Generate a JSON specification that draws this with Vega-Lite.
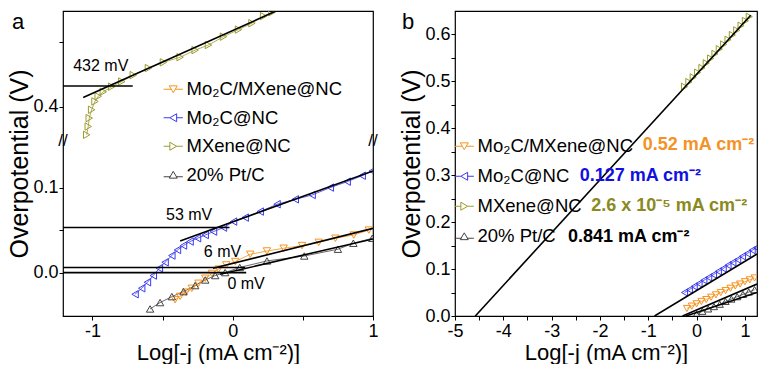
{
  "$schema": "https://vega.github.io/schema/vega-lite/v6.json",
  "padding": {"left": 7, "top": 10, "right": 0, "bottom": 0},
  "background": "white",
  "config": {
    "font": "Liberation Sans",
    "view": {"stroke": "black", "strokeWidth": 1.2},
    "axis": {"domain": false, "grid": false, "tickSize": 4, "tickColor": "black", "labelColor": "black", "titleColor": "black", "labelFont": "Liberation Sans", "titleFont": "Liberation Sans", "labelFontSize": 18, "titleFontWeight": "normal", "labelFlush": false, "labelOverlap": false},
    "axisX": {"titleFontSize": 22, "labelPadding": 2, "titlePadding": 2},
    "axisY": {"titleFontSize": 25, "labelPadding": 1, "titlePadding": 0},
    "title": {"font": "Liberation Sans", "fontSize": 22, "fontWeight": "normal", "color": "black"}
  },
  "datasets": {
    "aPts": [
      {"s": "Mo₂C/MXene@NC", "x": -0.411, "y": -0.032},
      {"s": "Mo₂C/MXene@NC", "x": -0.375, "y": -0.028},
      {"s": "Mo₂C/MXene@NC", "x": -0.332, "y": -0.023},
      {"s": "Mo₂C/MXene@NC", "x": -0.292, "y": -0.0185},
      {"s": "Mo₂C/MXene@NC", "x": -0.244, "y": -0.0126},
      {"s": "Mo₂C/MXene@NC", "x": -0.196, "y": -0.0067},
      {"s": "Mo₂C/MXene@NC", "x": -0.149, "y": -0.001},
      {"s": "Mo₂C/MXene@NC", "x": -0.101, "y": 0.004},
      {"s": "Mo₂C/MXene@NC", "x": -0.046, "y": 0.009},
      {"s": "Mo₂C/MXene@NC", "x": 0.018, "y": 0.013},
      {"s": "Mo₂C/MXene@NC", "x": 0.125, "y": 0.0215},
      {"s": "Mo₂C/MXene@NC", "x": 0.244, "y": 0.0254},
      {"s": "Mo₂C/MXene@NC", "x": 0.363, "y": 0.0286},
      {"s": "Mo₂C/MXene@NC", "x": 0.494, "y": 0.0318},
      {"s": "Mo₂C/MXene@NC", "x": 0.613, "y": 0.0356},
      {"s": "Mo₂C/MXene@NC", "x": 0.732, "y": 0.0404},
      {"s": "Mo₂C/MXene@NC", "x": 0.863, "y": 0.0442},
      {"s": "Mo₂C/MXene@NC", "x": 0.97, "y": 0.05},
      {"s": "Mo₂C@NC", "x": -0.696, "y": -0.0255},
      {"s": "Mo₂C@NC", "x": -0.649, "y": -0.0185},
      {"s": "Mo₂C@NC", "x": -0.608, "y": -0.0114},
      {"s": "Mo₂C@NC", "x": -0.566, "y": -0.0035},
      {"s": "Mo₂C@NC", "x": -0.523, "y": 0.0051},
      {"s": "Mo₂C@NC", "x": -0.482, "y": 0.0121},
      {"s": "Mo₂C@NC", "x": -0.434, "y": 0.02},
      {"s": "Mo₂C@NC", "x": -0.394, "y": 0.0266},
      {"s": "Mo₂C@NC", "x": -0.351, "y": 0.0318},
      {"s": "Mo₂C@NC", "x": -0.304, "y": 0.0365},
      {"s": "Mo₂C@NC", "x": -0.251, "y": 0.0404},
      {"s": "Mo₂C@NC", "x": -0.196, "y": 0.0442},
      {"s": "Mo₂C@NC", "x": -0.137, "y": 0.0482},
      {"s": "Mo₂C@NC", "x": -0.066, "y": 0.0529},
      {"s": "Mo₂C@NC", "x": 0.006, "y": 0.06},
      {"s": "Mo₂C@NC", "x": 0.089, "y": 0.0647},
      {"s": "Mo₂C@NC", "x": 0.196, "y": 0.0718},
      {"s": "Mo₂C@NC", "x": 0.316, "y": 0.0804},
      {"s": "Mo₂C@NC", "x": 0.446, "y": 0.0862},
      {"s": "Mo₂C@NC", "x": 0.566, "y": 0.0913},
      {"s": "Mo₂C@NC", "x": 0.696, "y": 0.1},
      {"s": "Mo₂C@NC", "x": 0.816, "y": 0.107},
      {"s": "Mo₂C@NC", "x": 0.923, "y": 0.114},
      {"s": "Mo₂C@NC", "x": 0.995, "y": 0.1195},
      {"s": "MXene@NC", "x": -1.041, "y": 0.356},
      {"s": "MXene@NC", "x": -1.03, "y": 0.369},
      {"s": "MXene@NC", "x": -1.023, "y": 0.382},
      {"s": "MXene@NC", "x": -1.006, "y": 0.395},
      {"s": "MXene@NC", "x": -0.982, "y": 0.408},
      {"s": "MXene@NC", "x": -0.959, "y": 0.416},
      {"s": "MXene@NC", "x": -0.923, "y": 0.423},
      {"s": "MXene@NC", "x": -0.863, "y": 0.431},
      {"s": "MXene@NC", "x": -0.791, "y": 0.439},
      {"s": "MXene@NC", "x": -0.709, "y": 0.449},
      {"s": "MXene@NC", "x": -0.601, "y": 0.46},
      {"s": "MXene@NC", "x": -0.494, "y": 0.469},
      {"s": "MXene@NC", "x": -0.375, "y": 0.477},
      {"s": "MXene@NC", "x": -0.268, "y": 0.488},
      {"s": "MXene@NC", "x": -0.173, "y": 0.496},
      {"s": "MXene@NC", "x": -0.066, "y": 0.509},
      {"s": "MXene@NC", "x": 0.041, "y": 0.52},
      {"s": "MXene@NC", "x": 0.137, "y": 0.53},
      {"s": "MXene@NC", "x": 0.22, "y": 0.541},
      {"s": "MXene@NC", "x": 0.28, "y": 0.547},
      {"s": "20% Pt/C", "x": -0.589, "y": -0.0428},
      {"s": "20% Pt/C", "x": -0.518, "y": -0.0353},
      {"s": "20% Pt/C", "x": -0.434, "y": -0.0283},
      {"s": "20% Pt/C", "x": -0.351, "y": -0.0224},
      {"s": "20% Pt/C", "x": -0.268, "y": -0.0153},
      {"s": "20% Pt/C", "x": -0.196, "y": -0.0087},
      {"s": "20% Pt/C", "x": -0.125, "y": -0.0035},
      {"s": "20% Pt/C", "x": -0.054, "y": 0.0},
      {"s": "20% Pt/C", "x": 0.05, "y": 0.006},
      {"s": "20% Pt/C", "x": 0.244, "y": 0.0137},
      {"s": "20% Pt/C", "x": 0.51, "y": 0.0195},
      {"s": "20% Pt/C", "x": 0.75, "y": 0.0275},
      {"s": "20% Pt/C", "x": 0.86, "y": 0.0345},
      {"s": "20% Pt/C", "x": 0.995, "y": 0.0404}
    ],
    "aFit": [
      {"id": "m1", "x": -1.066, "y": 0.414}, {"id": "m1", "x": 0.33, "y": 0.551},
      {"id": "m2", "x": -1.21, "y": 0.432}, {"id": "m2", "x": -0.713, "y": 0.432},
      {"id": "b1", "x": -0.375, "y": 0.0372}, {"id": "b1", "x": 1.0, "y": 0.1195},
      {"id": "b2", "x": -1.21, "y": 0.053}, {"id": "b2", "x": -0.023, "y": 0.053},
      {"id": "o1", "x": -0.14, "y": 0.005}, {"id": "o1", "x": 1.0, "y": 0.052},
      {"id": "o2", "x": -1.21, "y": 0.006}, {"id": "o2", "x": 0.089, "y": 0.006},
      {"id": "k1", "x": -0.09, "y": -0.002}, {"id": "k1", "x": 1.0, "y": 0.0396},
      {"id": "k2", "x": -1.21, "y": 0.0}, {"id": "k2", "x": 0.096, "y": 0.0}
    ],
    "aLab": [
      {"x": -0.941, "y": 0.4625, "t": "432 mV"},
      {"x": -0.311, "y": 0.0678, "t": "53 mV"},
      {"x": -0.073, "y": 0.0247, "t": "6 mV"},
      {"x": 0.095, "y": -0.0138, "t": "0 mV"}
    ],
    "aBrk": [
      {"x": -1.21, "y": 0.25, "t": "//"},
      {"x": 1.0, "y": 0.25, "t": "//"}
    ],
    "bPts": [
      {"s": "Mo₂C/MXene@NC", "x": -0.2, "y": 0.016},
      {"s": "Mo₂C/MXene@NC", "x": -0.1, "y": 0.021},
      {"s": "Mo₂C/MXene@NC", "x": 0.0, "y": 0.026},
      {"s": "Mo₂C/MXene@NC", "x": 0.1, "y": 0.031},
      {"s": "Mo₂C/MXene@NC", "x": 0.2, "y": 0.035},
      {"s": "Mo₂C/MXene@NC", "x": 0.3, "y": 0.04},
      {"s": "Mo₂C/MXene@NC", "x": 0.4, "y": 0.045},
      {"s": "Mo₂C/MXene@NC", "x": 0.5, "y": 0.05},
      {"s": "Mo₂C/MXene@NC", "x": 0.6, "y": 0.054},
      {"s": "Mo₂C/MXene@NC", "x": 0.7, "y": 0.059},
      {"s": "Mo₂C/MXene@NC", "x": 0.8, "y": 0.064},
      {"s": "Mo₂C/MXene@NC", "x": 0.9, "y": 0.068},
      {"s": "Mo₂C/MXene@NC", "x": 1.0, "y": 0.073},
      {"s": "Mo₂C/MXene@NC", "x": 1.1, "y": 0.077},
      {"s": "Mo₂C/MXene@NC", "x": 1.2, "y": 0.081},
      {"s": "Mo₂C@NC", "x": -0.25, "y": 0.05},
      {"s": "Mo₂C@NC", "x": -0.15, "y": 0.056},
      {"s": "Mo₂C@NC", "x": -0.05, "y": 0.063},
      {"s": "Mo₂C@NC", "x": 0.05, "y": 0.069},
      {"s": "Mo₂C@NC", "x": 0.15, "y": 0.076},
      {"s": "Mo₂C@NC", "x": 0.25, "y": 0.082},
      {"s": "Mo₂C@NC", "x": 0.35, "y": 0.088},
      {"s": "Mo₂C@NC", "x": 0.45, "y": 0.095},
      {"s": "Mo₂C@NC", "x": 0.55, "y": 0.101},
      {"s": "Mo₂C@NC", "x": 0.65, "y": 0.108},
      {"s": "Mo₂C@NC", "x": 0.75, "y": 0.114},
      {"s": "Mo₂C@NC", "x": 0.85, "y": 0.12},
      {"s": "Mo₂C@NC", "x": 0.95, "y": 0.127},
      {"s": "Mo₂C@NC", "x": 1.05, "y": 0.133},
      {"s": "Mo₂C@NC", "x": 1.15, "y": 0.14},
      {"s": "Mo₂C@NC", "x": 1.24, "y": 0.145},
      {"s": "MXene@NC", "x": -0.25, "y": 0.488},
      {"s": "MXene@NC", "x": -0.16, "y": 0.498},
      {"s": "MXene@NC", "x": -0.07, "y": 0.508},
      {"s": "MXene@NC", "x": 0.02, "y": 0.518},
      {"s": "MXene@NC", "x": 0.11, "y": 0.528},
      {"s": "MXene@NC", "x": 0.2, "y": 0.538},
      {"s": "MXene@NC", "x": 0.29, "y": 0.548},
      {"s": "MXene@NC", "x": 0.38, "y": 0.558},
      {"s": "MXene@NC", "x": 0.47, "y": 0.568},
      {"s": "MXene@NC", "x": 0.56, "y": 0.578},
      {"s": "MXene@NC", "x": 0.65, "y": 0.588},
      {"s": "MXene@NC", "x": 0.74, "y": 0.598},
      {"s": "MXene@NC", "x": 0.83, "y": 0.608},
      {"s": "MXene@NC", "x": 0.92, "y": 0.618},
      {"s": "MXene@NC", "x": 1.01, "y": 0.628},
      {"s": "MXene@NC", "x": 1.09, "y": 0.637},
      {"s": "20% Pt/C", "x": 0.0, "y": 0.004},
      {"s": "20% Pt/C", "x": 0.12, "y": 0.01},
      {"s": "20% Pt/C", "x": 0.24, "y": 0.015},
      {"s": "20% Pt/C", "x": 0.36, "y": 0.02},
      {"s": "20% Pt/C", "x": 0.48, "y": 0.025},
      {"s": "20% Pt/C", "x": 0.6, "y": 0.031},
      {"s": "20% Pt/C", "x": 0.72, "y": 0.036},
      {"s": "20% Pt/C", "x": 0.84, "y": 0.041},
      {"s": "20% Pt/C", "x": 0.96, "y": 0.046},
      {"s": "20% Pt/C", "x": 1.08, "y": 0.051},
      {"s": "20% Pt/C", "x": 1.2, "y": 0.056}
    ],
    "bFit": [
      {"id": "m", "x": -4.58, "y": 0.0}, {"id": "m", "x": 1.12, "y": 0.64},
      {"id": "b", "x": -0.87, "y": 0.0}, {"id": "b", "x": 1.25, "y": 0.132},
      {"id": "o", "x": -0.29, "y": 0.0}, {"id": "o", "x": 1.25, "y": 0.068},
      {"id": "k", "x": -0.22, "y": 0.0}, {"id": "k", "x": 1.25, "y": 0.05}
    ],
    "bLab": [
      {"s": "Mo₂C/MXene@NC", "x": -1.113, "y": 0.3643, "t": "0.52 mA cm⁻²"},
      {"s": "Mo₂C@NC", "x": -2.42, "y": 0.2987, "t": "0.127 mA cm⁻²"},
      {"s": "MXene@NC", "x": -2.18, "y": 0.2336, "t": "2.6 x 10⁻⁵ mA cm⁻²"},
      {"s": "20% Pt/C", "x": -2.66, "y": 0.1685, "t": "0.841 mA cm⁻²"}
    ]
  },
  "resolve": {"scale": {"color": "independent", "shape": "independent", "x": "independent", "y": "independent"}, "legend": {"color": "independent", "shape": "independent"}},
  "spacing": 20,
  "hconcat": [
    {
      "width": 310,
      "height": 305,
      "title": {"text": "a", "anchor": "start", "frame": "bounds", "offset": 0, "dx": 4, "dy": 23},
      "encoding": {
        "x": {"field": "x", "type": "quantitative", "title": "Log[-j (mA cm⁻²)]",
          "scale": {"domain": [-1.21, 1.0], "nice": false, "zero": false},
          "axis": {"values": [-1, -0.5, 0, 0.5, 1], "labelExpr": "datum.value % 1 == 0 ? '' + datum.value : ''"}},
        "y": {"field": "y", "type": "quantitative", "title": "Overpotential (V)",
          "scale": {"domain": [-0.0511, 0.1513, 0.351, 0.549], "range": [305, 133, 127, 0], "nice": false, "zero": false},
          "axis": {"values": [0, 0.05, 0.1, 0.4, 0.5], "labelExpr": "(datum.value == 0.05 || datum.value == 0.5) ? '' : format(datum.value, '.1f')"}}
      },
      "resolve": {"scale": {"color": "independent", "shape": "independent"}, "legend": {"color": "independent", "shape": "independent"}},
      "layer": [
        {"data": {"name": "aPts"}, "mark": {"type": "line", "strokeWidth": 0.8, "clip": true},
          "encoding": {"color": {"field": "s", "type": "nominal", "legend": null, "scale": {"domain": ["Mo₂C/MXene@NC", "Mo₂C@NC", "MXene@NC", "20% Pt/C"], "range": ["#F7931E", "#3A3AF0", "#9C9C2E", "#444444"]}}, "order": {"field": "x"}}},
        {"data": {"name": "aPts"}, "mark": {"type": "point", "filled": false, "size": 55, "strokeWidth": 1, "opacity": 1, "clip": true},
          "encoding": {"color": {"field": "s", "type": "nominal", "legend": null, "scale": {"domain": ["Mo₂C/MXene@NC", "Mo₂C@NC", "MXene@NC", "20% Pt/C"], "range": ["#F7931E", "#3A3AF0", "#9C9C2E", "#444444"]}},
            "shape": {"field": "s", "type": "nominal", "legend": null, "scale": {"domain": ["Mo₂C/MXene@NC", "Mo₂C@NC", "MXene@NC", "20% Pt/C"], "range": ["triangle-down", "triangle-left", "triangle-right", "triangle-up"]}}}},
        {"data": {"name": "aFit"}, "mark": {"type": "line", "color": "black", "strokeWidth": 1.6, "clip": true},
          "encoding": {"detail": {"field": "id"}}},
        {"data": {"name": "aLab"}, "mark": {"type": "text", "fontSize": 16, "color": "black", "font": "Liberation Sans"},
          "encoding": {"text": {"field": "t"}}},
        {"data": {"values": [{}]}, "mark": {"type": "rect", "color": "white"},
          "encoding": {"x": {"datum": -1.26}, "x2": {"datum": 1.05}, "y": {"datum": 0.1513}, "y2": {"datum": 0.351}}},
        {"data": {"name": "aBrk"}, "mark": {"type": "text", "fontSize": 17, "color": "black", "font": "Liberation Sans"},
          "encoding": {"text": {"field": "t"}}},
        {"data": {"name": "aPts"}, "transform": [{"filter": "false"}], "mark": {"type": "point", "filled": false, "strokeWidth": 1, "opacity": 1},
          "encoding": {
            "color": {"field": "s", "type": "nominal", "scale": {"domain": ["Mo₂C/MXene@NC", "Mo₂C@NC", "MXene@NC", "20% Pt/C"], "range": ["#F7931E", "#3A3AF0", "#9C9C2E", "#444444"]},
              "legend": {"orient": "none", "legendX": 101, "legendY": 69, "title": null, "labelFontSize": 18.5, "labelFont": "Liberation Sans", "labelColor": "black", "symbolSize": 64, "symbolStrokeWidth": 1, "rowPadding": 9.5, "labelOffset": 4}},
            "shape": {"field": "s", "type": "nominal", "scale": {"domain": ["Mo₂C/MXene@NC", "Mo₂C@NC", "MXene@NC", "20% Pt/C"], "range": ["M-2.4,0H-0.5M0.5,0H2.4M-1,-0.85L1,-0.85L0,0.85Z", "M-2.4,0H-0.85M0.85,0H2.4M-0.85,0L0.85,-1L0.85,1Z", "M-2.4,0H-0.85M0.85,0H2.4M0.85,0L-0.85,-1L-0.85,1Z", "M-2.4,0.5H-0.7M0.7,0.5H2.4M-1,0.85L1,0.85L0,-0.85Z"]},
              "legend": {"orient": "none", "legendX": 101, "legendY": 69, "title": null, "labelFontSize": 18.5, "labelFont": "Liberation Sans", "labelColor": "black", "symbolSize": 64, "symbolStrokeWidth": 1, "rowPadding": 9.5, "labelOffset": 4}}
          }}
      ]
    },
    {
      "width": 302,
      "height": 305,
      "title": {"text": "b", "anchor": "start", "frame": "bounds", "offset": 0, "dx": 2, "dy": 23},
      "encoding": {
        "x": {"field": "x", "type": "quantitative", "title": "Log[-j (mA cm⁻²)]",
          "scale": {"domain": [-5, 1.25], "nice": false, "zero": false},
          "axis": {"values": [-5, -4.5, -4, -3.5, -3, -2.5, -2, -1.5, -1, -0.5, 0, 0.5, 1], "labelExpr": "datum.value % 1 == 0 ? '' + datum.value : ''"}},
        "y": {"field": "y", "type": "quantitative", "title": "Overpotential (V)",
          "scale": {"domain": [0, 0.649], "nice": false, "zero": false},
          "axis": {"values": [0, 0.05, 0.1, 0.15, 0.2, 0.25, 0.3, 0.35, 0.4, 0.45, 0.5, 0.55, 0.6], "labelExpr": "round(datum.value * 20) % 2 == 0 ? format(datum.value, '.1f') : ''"}}
      },
      "resolve": {"scale": {"color": "independent", "shape": "independent"}, "legend": {"color": "independent", "shape": "independent"}},
      "layer": [
        {"data": {"name": "bPts"}, "mark": {"type": "line", "strokeWidth": 0.8, "clip": true},
          "encoding": {"color": {"field": "s", "type": "nominal", "legend": null, "scale": {"domain": ["Mo₂C/MXene@NC", "Mo₂C@NC", "MXene@NC", "20% Pt/C"], "range": ["#F7931E", "#3A3AF0", "#9C9C2E", "#444444"]}}, "order": {"field": "x"}}},
        {"data": {"name": "bPts"}, "mark": {"type": "point", "filled": false, "size": 50, "strokeWidth": 1, "opacity": 1, "clip": true},
          "encoding": {"color": {"field": "s", "type": "nominal", "legend": null, "scale": {"domain": ["Mo₂C/MXene@NC", "Mo₂C@NC", "MXene@NC", "20% Pt/C"], "range": ["#F7931E", "#3A3AF0", "#9C9C2E", "#444444"]}},
            "shape": {"field": "s", "type": "nominal", "legend": null, "scale": {"domain": ["Mo₂C/MXene@NC", "Mo₂C@NC", "MXene@NC", "20% Pt/C"], "range": ["triangle-down", "triangle-left", "triangle-right", "triangle-up"]}}}},
        {"data": {"name": "bFit"}, "mark": {"type": "line", "color": "black", "strokeWidth": 1.6, "clip": true},
          "encoding": {"detail": {"field": "id"}}},
        {"data": {"name": "bLab"}, "mark": {"type": "text", "fontSize": 18, "fontWeight": "bold", "align": "left", "baseline": "middle", "font": "Liberation Sans"},
          "encoding": {"text": {"field": "t"}, "color": {"field": "s", "type": "nominal", "legend": null, "scale": {"domain": ["Mo₂C/MXene@NC", "Mo₂C@NC", "MXene@NC", "20% Pt/C"], "range": ["#F39325", "#1010E0", "#8A8A1E", "#000000"]}}}},
        {"data": {"name": "bPts"}, "transform": [{"filter": "false"}], "mark": {"type": "point", "filled": false, "strokeWidth": 1, "opacity": 1},
          "encoding": {
            "color": {"field": "s", "type": "nominal", "scale": {"domain": ["Mo₂C/MXene@NC", "Mo₂C@NC", "MXene@NC", "20% Pt/C"], "range": ["#F7931E", "#3A3AF0", "#9C9C2E", "#444444"]},
              "legend": {"orient": "none", "legendX": 0, "legendY": 126, "title": null, "labelFontSize": 18.5, "labelFont": "Liberation Sans", "labelColor": "black", "symbolSize": 64, "symbolStrokeWidth": 1, "rowPadding": 11, "labelOffset": 4}},
            "shape": {"field": "s", "type": "nominal", "scale": {"domain": ["Mo₂C/MXene@NC", "Mo₂C@NC", "MXene@NC", "20% Pt/C"], "range": ["M-2.4,0H-0.5M0.5,0H2.4M-1,-0.85L1,-0.85L0,0.85Z", "M-2.4,0H-0.85M0.85,0H2.4M-0.85,0L0.85,-1L0.85,1Z", "M-2.4,0H-0.85M0.85,0H2.4M0.85,0L-0.85,-1L-0.85,1Z", "M-2.4,0.5H-0.7M0.7,0.5H2.4M-1,0.85L1,0.85L0,-0.85Z"]},
              "legend": {"orient": "none", "legendX": 0, "legendY": 126, "title": null, "labelFontSize": 18.5, "labelFont": "Liberation Sans", "labelColor": "black", "symbolSize": 64, "symbolStrokeWidth": 1, "rowPadding": 11, "labelOffset": 4}}
          }}
      ]
    }
  ]
}
